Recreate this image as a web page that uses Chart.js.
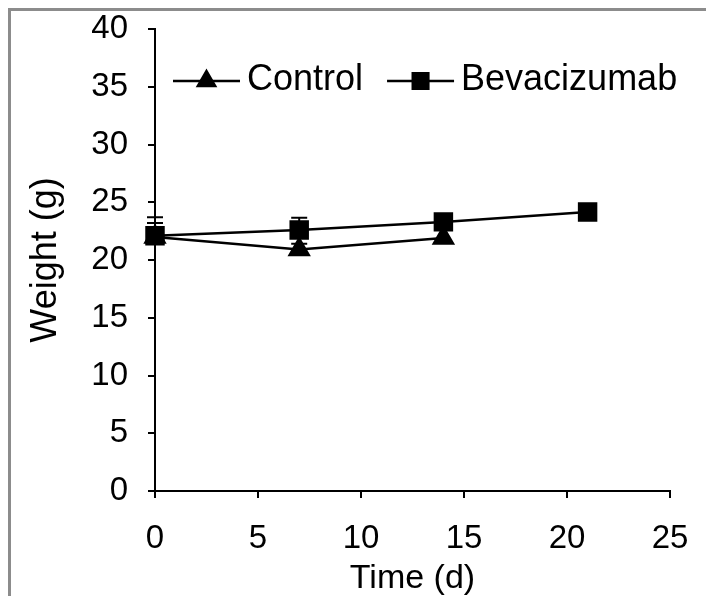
<!DOCTYPE html>
<html>
<head>
<meta charset="utf-8">
<script src="https://cdn.jsdelivr.net/npm/chart.js@4.4.1/dist/chart.umd.min.js"></script>
<style>
  html, body { margin: 0; padding: 0; background: #fff; }
  #wrap { position: relative; width: 706px; height: 596px; overflow: hidden; }
  #frame { position: absolute; left: 8px; top: 8px; width: 720px; height: 620px;
           border-top: 3px solid #8c8c8c; border-left: 3px solid #8c8c8c; }
  canvas { position: absolute; left: 0; top: 0; }
</style>
</head>
<body>
<div id="wrap">
  <div id="frame"></div>
  <canvas id="weightChart" width="706" height="596"></canvas>
</div>
<script>
// data
const controlDays = [0, 7, 14]
const controlWeight = [22.0, 20.9, 21.9]
const controlErr = [1.7, 0.5, 0.8]

const bevDays = [0, 7, 14, 21]
const bevWeight = [22.1, 22.6, 23.3, 24.15]
const bevErr = [1.1, 1.05, 0.6, 0.7]

const xTicks = [0, 5, 10, 15, 20, 25]
const yTicks = [0, 5, 10, 15, 20, 25, 30, 35, 40]

const FONT = "'Liberation Sans', Arial, sans-serif"

function points(days, vals, errs) {
  return days.map((d, i) => ({x: d, y: vals[i], err: errs[i]}))
}

// plus-only error bars, like the excel original
const errorBars = {
  id: 'errorBars',
  beforeDatasetsDraw(chart) {
    const ctx = chart.ctx
    const xs = chart.scales.x, ys = chart.scales.y
    ctx.save()
    ctx.strokeStyle = '#000'
    ctx.lineWidth = 2
    chart.data.datasets.forEach(ds => {
      ds.data.forEach(p => {
        const px = xs.getPixelForValue(p.x)
        const y0 = ys.getPixelForValue(p.y)
        const y1 = ys.getPixelForValue(p.y + p.err)
        ctx.beginPath()
        ctx.moveTo(px, y0); ctx.lineTo(px, y1)
        ctx.moveTo(px - 8, y1); ctx.lineTo(px + 8, y1)
        ctx.stroke()
      })
    })
    ctx.restore()
  }
}

// excel style legend: line with marker in the middle, inside plot area
const lineLegend = {
  id: 'lineLegend',
  afterDraw(chart) {
    const ctx = chart.ctx
    ctx.save()
    ctx.font = '36px ' + FONT
    ctx.textBaseline = 'middle'
    ctx.fillStyle = '#000'
    let x = 173
    const y = 80
    chart.data.datasets.slice().reverse().forEach(ds => {
      ctx.strokeStyle = '#000'
      ctx.lineWidth = 2.5
      ctx.beginPath()
      ctx.moveTo(x, y + 1); ctx.lineTo(x + 67, y + 1)
      ctx.stroke()
      Chart.helpers.drawPoint(ctx, {
        pointStyle: ds.pointStyle, radius: ds.legendRadius, borderWidth: 1
      }, x + 33.5, y + 1)
      ctx.fill()
      x += 74
      ctx.fillText(ds.label, x, y)
      x += ctx.measureText(ds.label).width + 24
    })
    ctx.restore()
  }
}

const data = {
  datasets: [
    {
      label: 'Bevacizumab',
      data: points(bevDays, bevWeight, bevErr),
      borderColor: '#000',
      backgroundColor: '#000',
      borderWidth: 2.5,
      pointStyle: 'rect',
      pointRadius: 12,
      legendRadius: 11,
      clip: false,
      order: 0
    },
    {
      label: 'Control',
      data: points(controlDays, controlWeight, controlErr),
      borderColor: '#000',
      backgroundColor: '#000',
      borderWidth: 2.5,
      pointStyle: 'triangle',
      pointRadius: 11,
      legendRadius: 10,
      clip: false,
      order: 1
    }
  ]
}

const config = {
  type: 'line',
  data,
  options: {
    responsive: false,
    animation: false,
    layout: { padding: { top: 29, left: 10, right: 36, bottom: 0 } },
    plugins: { legend: { display: false }, tooltip: { enabled: false } },
    scales: {
      x: {
        type: 'linear',
        min: 0, max: 25,
        afterBuildTicks: s => { s.ticks = xTicks.map(v => ({value: v})) },
        afterFit: s => { s.height = 105; s.paddingLeft = 0; s.paddingRight = 0 },
        border: { color: '#000', width: 2 },
        grid: { drawOnChartArea: false, color: '#000', lineWidth: 2, tickLength: 7 },
        ticks: { color: '#000', padding: 21, font: { family: FONT, size: 33 } },
        title: { display: true, text: 'Time (d)', color: '#000',
                 font: { family: FONT, size: 34, lineHeight: 1 }, padding: 0 }
      },
      y: {
        min: 0, max: 40,
        afterBuildTicks: s => { s.ticks = yTicks.map(v => ({value: v})) },
        afterFit: s => { s.width = 145; s.paddingTop = 0; s.paddingBottom = 0 },
        border: { color: '#000', width: 2 },
        grid: { drawOnChartArea: false, color: '#000', lineWidth: 2, tickLength: 7 },
        ticks: { color: '#000', padding: 20, font: { family: FONT, size: 33 } },
        title: { display: true, text: 'Weight (g)', color: '#000',
                 font: { family: FONT, size: 36, lineHeight: 1.2 }, padding: { top: 14, bottom: 0 } }
      }
    }
  },
  plugins: [errorBars, lineLegend]
}

const weightChart = new Chart(document.getElementById('weightChart'), config)
</script>
</body>
</html>
